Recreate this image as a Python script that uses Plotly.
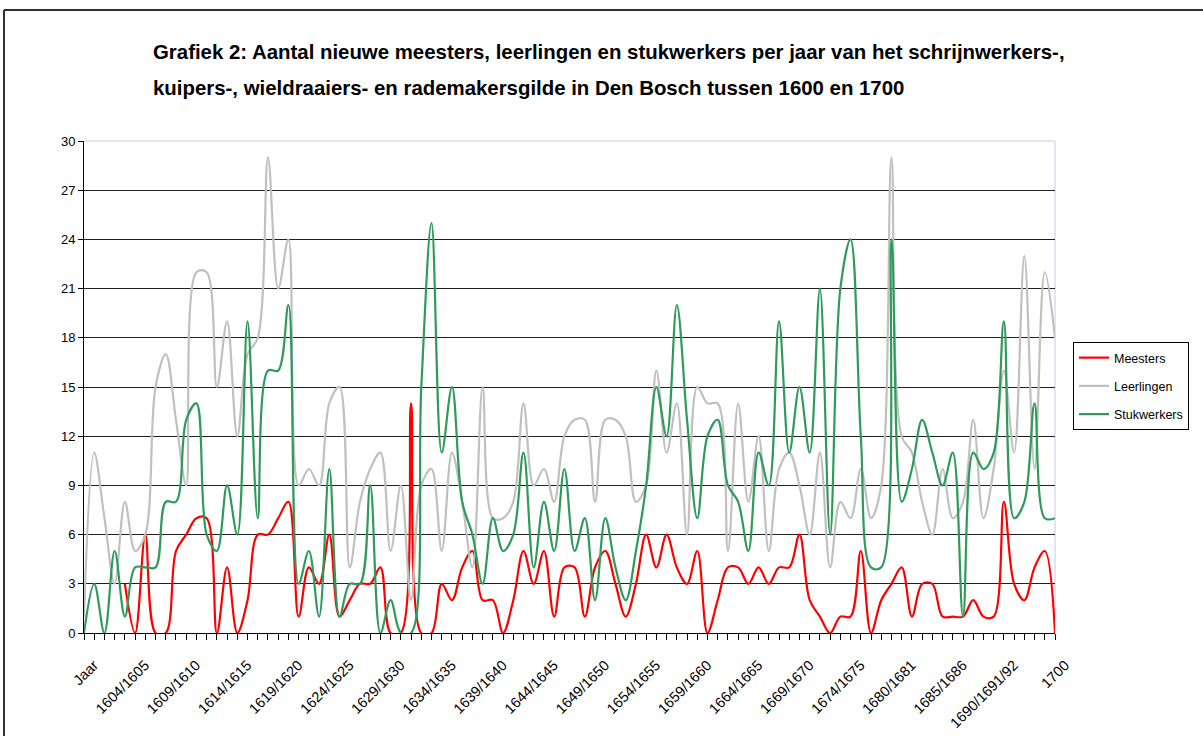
import plotly.graph_objects as go

# category positions (0 = "Jaar", then one per year/period)
x_index = list(range(96))

tick_positions = [0, 5, 10, 15, 20, 25, 30, 35, 40, 45, 50, 55, 60, 65, 70, 75, 80, 85, 90, 95]
tick_labels = ["Jaar", "1604/1605", "1609/1610", "1614/1615", "1619/1620", "1624/1625",
               "1629/1630", "1634/1635", "1639/1640", "1644/1645", "1649/1650", "1654/1655",
               "1659/1660", "1664/1665", "1669/1670", "1674/1675", "1680/1681", "1685/1686",
               "1690/1691/92", "1700"]

meesters = [None, None, None, None, 3, 0, 6, 0, 0, 5,
            6, 7, 7, 0, 4, 0, 2, 6, 6, 7,
            8, 1, 4, 3, 6, 1, 2, 3, 3, 4,
            0, 0, 14, 0, 0, 3, 2, 4, 5, 2,
            2, 0, 2, 5, 3, 5, 1, 4, 4, 1,
            4, 5, 3, 1, 3, 6, 4, 6, 4, 3,
            5, 0, 2, 4, 4, 3, 4, 3, 4, 4,
            6, 2, 1, 0, 1, 1, 5, 0, 2, 3,
            4, 1, 3, 3, 1, 1, 1, 2, 1, 1,
            8, 3, 2, 4, 5, 0]

leerlingen = [1, 11, 7, 3, 8, 5, 6, 15, 17, 13,
              9, 22, 22, 15, 19, 12, 17, 18, 29, 21,
              24, 9, 10, 9, 14, 15, 4, 8, 10, 11,
              5, 9, 2, 9, 10, 5, 11, 8, 4, 15,
              7, 7, 8, 14, 9, 10, 8, 12, 13, 13,
              8, 13, 13, 12, 8, 9, 16, 11, 14, 6,
              15, 14, 14, 5, 14, 8, 12, 5, 10, 11,
              9, 6, 11, 4, 8, 7, 10, 7, 9, 29,
              12, 11, 8, 6, 10, 7, 8, 13, 7, 10,
              16, 11, 23, 10, 22, 18]

stukwerkers = [0, 3, 0, 5, 1, 4, 4, 4, 8, 8,
               13, 14, 6, 5, 9, 6, 19, 7, 16, 16,
               20, 3, 5, 1, 10, 1, 3, 3, 9, 0,
               2, 0, 0, 15, 25, 11, 15, 8, 6, 3,
               7, 5, 6, 11, 4, 8, 5, 10, 5, 7,
               2, 7, 4, 2, 5, 9, 15, 12, 20, 13,
               7, 12, 13, 9, 8, 5, 11, 9, 19, 11,
               15, 11, 21, 6, 21, 24, 12, 4, 4, 24,
               8, 10, 13, 11, 9, 11, 1, 11, 10, 11,
               19, 7, 8, 14, 7, 7]

y_ticks = [0, 3, 6, 9, 12, 15, 18, 21, 24, 27, 30]

title_line1 = "Grafiek 2: Aantal nieuwe meesters, leerlingen en stukwerkers per jaar van het schrijnwerkers-,"
title_line2 = "kuipers-, wieldraaiers- en rademakersgilde in Den Bosch tussen 1600 en 1700"

series = [("Meesters", meesters, "#ff0000"),
          ("Leerlingen", leerlingen, "#c0c0c0"),
          ("Stukwerkers", stukwerkers, "#2e9a5c")]

fig = go.Figure()
for name, vals, col in series:
    fig.add_trace(go.Scatter(x=x_index, y=vals, name=name, mode="lines", legendgroup=name,
                             line=dict(color=col, width=2.2, shape="spline", smoothing=1.0),
                             connectgaps=False))

W, H = 1203, 736
L, R, T, B = 84, 1055, 141, 633
pw, ph = R - L, B - T

def px(xp):
    return (xp - L) / pw

def py(yp):
    return (B - yp) / ph

FONT = "Liberation Sans, Arial, sans-serif"

fig.update_layout(
    width=W, height=H,
    margin=dict(l=L, r=W - R, t=T, b=H - B, pad=0, autoexpand=False),
    paper_bgcolor="white", plot_bgcolor="white",
    font=dict(family=FONT, size=12, color="black"),
    showlegend=True,
    legend=dict(x=px(1073), y=py(342), xanchor="left", yanchor="top",
                bgcolor="white", bordercolor="black", borderwidth=1,
                font=dict(size=12.5, family=FONT),
                tracegroupgap=9, itemwidth=30),
    annotations=[
        dict(text="<b>" + title_line1 + "</b>", xref="paper", yref="paper",
             x=px(151), y=py(52), xanchor="left", yanchor="middle", align="left", showarrow=False,
             font=dict(size=20.4, family=FONT, color="black")),
        dict(text="<b>" + title_line2 + "</b>", xref="paper", yref="paper",
             x=px(151), y=py(88), xanchor="left", yanchor="middle", align="left", showarrow=False,
             font=dict(size=20.4, family=FONT, color="black")),
    ],
    shapes=[
        dict(type="line", xref="paper", yref="paper", x0=px(4), x1=px(1203), y0=py(10), y1=py(10),
             line=dict(color="#303030", width=2)),
        dict(type="line", xref="paper", yref="paper", x0=px(4), x1=px(4), y0=py(10), y1=py(736),
             line=dict(color="#303030", width=2)),
        dict(type="line", xref="paper", yref="paper", x0=0, x1=1, y0=1, y1=1,
             line=dict(color="#c8c8f0", width=1), layer="below"),
        dict(type="line", xref="paper", yref="paper", x0=1, x1=1, y0=0, y1=1,
             line=dict(color="#c8c8f0", width=1), layer="below"),
    ],
)

fig.update_xaxes(range=[0, 95], tickmode="array", tickvals=tick_positions, ticktext=tick_labels,
                 tickangle=-45, showgrid=False, zeroline=False, automargin=False,
                 showline=True, linecolor="black", linewidth=1,
                 ticks="outside", ticklen=6, tickcolor="black",
                 ticklabelstandoff=11, ticklabelshift=10,
                 minor=dict(dtick=1, tick0=0, ticks="outside", ticklen=6, tickcolor="black", showgrid=False),
                 tickfont=dict(size=14.5))
fig.update_yaxes(range=[0, 30], tickmode="array", tickvals=y_ticks, automargin=False,
                 showgrid=True, gridcolor="#202020", gridwidth=1, zeroline=False,
                 showline=True, linecolor="black", linewidth=1,
                 ticks="outside", ticklen=5, tickcolor="black",
                 tickfont=dict(size=13))

fig.write_html("out.html", config={"displayModeBar": False},
               post_script="document.body.style.margin='0px';document.body.style.overflow='hidden';")
